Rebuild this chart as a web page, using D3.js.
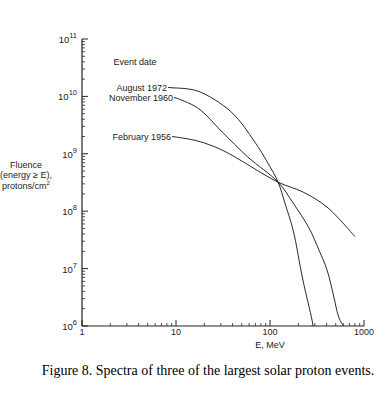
<!DOCTYPE html>
<html>
<head>
<meta charset="utf-8">
<script src="https://cdn.jsdelivr.net/npm/d3@7"></script>
<style>
  body { margin: 0; background: #fff; }
  svg { display: block; }
  .lab { font-family: "Liberation Sans", Arial, sans-serif; font-size: 9px; fill: #222; }
  .cap { font-family: "Liberation Serif", "Times New Roman", serif; font-size: 14px; fill: #000; }
</style>
</head>
<body>
<script>
// energy (MeV) and fluence (protons/cm2)
var aug1972E = [10, 17, 39, 69, 95, 122, 144, 176, 224, 280, 287];
var aug1972F = [1.4e10, 1.24e10, 5.3e9, 1.6e9, 6.9e8, 3.2e8, 1.39e8, 4.7e7, 6.3e6, 1.27e6, 1e6];

var nov1960E = [10, 17, 31, 58, 122, 176, 260, 332, 404, 480, 529, 569, 613];
var nov1960F = [9.4e9, 6.3e9, 2.4e9, 8.8e8, 3.2e8, 1.39e8, 5.1e7, 2.1e7, 9.5e6, 3.1e6, 1.56e6, 1.17e6, 1e6];

var feb1956E = [10, 17, 31, 122, 224, 404, 802];
var feb1956F = [1.96e9, 1.67e9, 1.16e9, 3.2e8, 2.16e8, 1.18e8, 3.6e7];

var seriesNames = ["August 1972", "November 1960", "February 1956"];
var yTickExp = [6, 7, 8, 9, 10, 11];
var xTickLabels = ["1", "10", "100", "1000"];

var svgWidth = 390;
var svgHeight = 396;

var svg = d3.select("body")
  .append("svg")
  .attr("width", svgWidth)
  .attr("height", svgHeight);

var x = d3.scaleLog().domain([1, 1000]).range([82, 364]);
var y = d3.scaleLog().domain([1e6, 1e11]).range([326, 39]);

// minor ticks 2..9 per decade
var xMinor = [], yMinor = [];
for (var d = 0; d < 3; d++) for (var k = 2; k < 10; k++) xMinor.push(k * Math.pow(10, d));
for (var e = 6; e < 11; e++) for (var k = 2; k < 10; k++) yMinor.push(k * Math.pow(10, e));

var axisColor = "#222";

// y axis, ticks pointing inward
var yAxis = svg.append("g").attr("transform", "translate(82,0)");
yAxis.append("line")
  .attr("x1", 0).attr("x2", 0)
  .attr("y1", y(1e11)).attr("y2", y(1e6))
  .attr("stroke", axisColor).attr("stroke-width", 1.2);
yAxis.selectAll(".ymin")
  .data(yMinor)
  .enter().append("line")
  .attr("x1", 0).attr("x2", 3)
  .attr("y1", d => y(d)).attr("y2", d => y(d))
  .attr("stroke", axisColor).attr("stroke-width", 0.8);
yAxis.selectAll(".ymaj")
  .data(yTickExp)
  .enter().append("line")
  .attr("x1", 0).attr("x2", 6)
  .attr("y1", d => y(Math.pow(10, d))).attr("y2", d => y(Math.pow(10, d)))
  .attr("stroke", axisColor).attr("stroke-width", 1);

var yLab = svg.selectAll(".ylab")
  .data(yTickExp)
  .enter().append("text")
  .attr("class", "lab")
  .attr("text-anchor", "end")
  .attr("x", 77)
  .attr("y", d => y(Math.pow(10, d)) + 4)
  .style("font-size", "9.5px");
yLab.append("tspan").text("10");
yLab.append("tspan")
  .attr("dy", -5)
  .style("font-size", "7.5px")
  .text(d => d);

// x axis, ticks pointing up
var xAxis = svg.append("g").attr("transform", "translate(0,326)");
xAxis.append("line")
  .attr("x1", x(1)).attr("x2", x(1000))
  .attr("y1", 0).attr("y2", 0)
  .attr("stroke", axisColor).attr("stroke-width", 1.2);
xAxis.selectAll(".xmin")
  .data(xMinor)
  .enter().append("line")
  .attr("x1", d => x(d)).attr("x2", d => x(d))
  .attr("y1", 0).attr("y2", -3)
  .attr("stroke", axisColor).attr("stroke-width", 0.8);
xAxis.selectAll(".xmaj")
  .data(xTickLabels)
  .enter().append("line")
  .attr("x1", d => x(+d)).attr("x2", d => x(+d))
  .attr("y1", 0).attr("y2", -6)
  .attr("stroke", axisColor).attr("stroke-width", 1);
xAxis.selectAll(".xlab")
  .data(xTickLabels)
  .enter().append("text")
  .attr("class", "lab")
  .attr("text-anchor", "middle")
  .attr("x", d => x(+d))
  .attr("y", 9)
  .text(d => d);

// axis titles
svg.append("text")
  .attr("class", "lab")
  .attr("text-anchor", "middle")
  .attr("x", 270)
  .attr("y", 348)
  .text("E, MeV");

var yTitle = svg.append("text")
  .attr("class", "lab")
  .attr("text-anchor", "middle");
yTitle.append("tspan").attr("x", 26).attr("y", 168).text("Fluence");
yTitle.append("tspan").attr("x", 26).attr("y", 178).text("(energy \u2265 E),");
yTitle.append("tspan").attr("x", 26).attr("y", 189).text("protons/cm");
yTitle.append("tspan").attr("dy", -4).style("font-size", "6px").text("2");

// curves
var series = [
  {name: seriesNames[0], e: aug1972E, f: aug1972F, gap: 9},
  {name: seriesNames[1], e: nov1960E, f: nov1960F, gap: 3},
  {name: seriesNames[2], e: feb1956E, f: feb1956F, gap: 5}
];

var line = d3.line()
  .x(d => x(d[0]))
  .y(d => y(d[1]))
  .curve(d3.curveCatmullRom.alpha(0.5));

series.forEach(function (s) {
  var pts = s.e.map((v, i) => [v, s.f[i]]);
  svg.append("path")
    .attr("d", line(pts))
    .attr("fill", "none")
    .attr("stroke", "#111")
    .attr("stroke-width", 0.9);

  // label with short leader line
  var x0 = x(s.e[0]), y0 = y(s.f[0]);
  svg.append("text")
    .attr("class", "lab")
    .attr("text-anchor", "end")
    .attr("x", x0 - s.gap)
    .attr("y", y0 + 3)
    .text(s.name);
  svg.append("line")
    .attr("x1", x0 - s.gap + 1).attr("x2", x0)
    .attr("y1", y0 - 0.5).attr("y2", y0)
    .attr("stroke", "#111")
    .attr("stroke-width", 0.9);
});

svg.append("text")
  .attr("class", "lab")
  .attr("text-anchor", "middle")
  .attr("x", 135)
  .attr("y", 65)
  .text("Event date");

// caption
svg.append("text")
  .attr("class", "cap")
  .attr("text-anchor", "middle")
  .attr("x", 208)
  .attr("y", 375)
  .text("Figure 8. Spectra of three of the largest solar proton events.");
</script>
</body>
</html>
